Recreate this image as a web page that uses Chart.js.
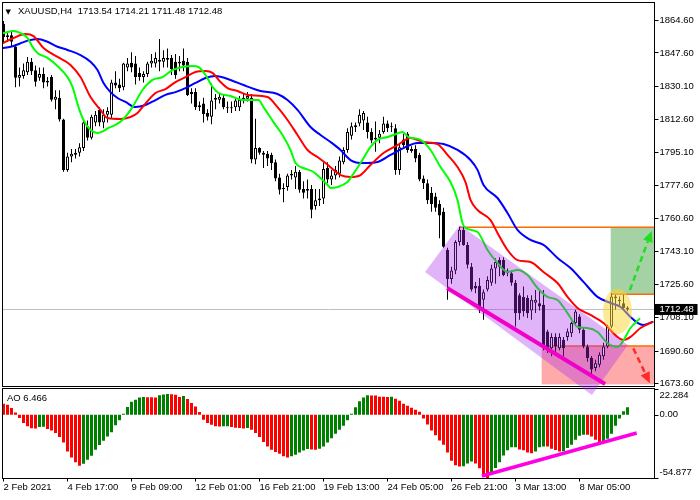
<!DOCTYPE html>
<html>
<head>
<meta charset="utf-8">
<title>XAUUSD,H4</title>
<script src="https://cdn.jsdelivr.net/npm/chart.js@4.4.1/dist/chart.umd.min.js"></script>
<style>
html,body{margin:0;padding:0;background:#ffffff;overflow:hidden;}
canvas{display:block;}
</style>
</head>
<body>
<canvas id="chart" width="700" height="500"></canvas>
<script>
// ================= DATA =================
const symbolName = 'XAUUSD';
const timeframe = 'H4';

const opens = [1863,1856,1857,1851,1834.5,1835.5,1837.5,1843,1838.5,1834.5,
1836.5,1833,1835,1823,1824,1812.5,1786,1793,1794,1795,
1797.5,1809,1803,1811,1817.5,1811,1815,1815,1832,1831,
1829.5,1840,1842.5,1842,1837,1835,1836.5,1842,1842,1844,
1843,1845,1845,1843,1843,1843.5,1843,1826,1827,1820,
1821,1816,1814,1823,1823,1824,1819,1818.5,1819,1819,
1823,1823.5,1824,1791.5,1797.5,1795,1794.5,1794,1790,1782,
1776,1777,1783,1782,1785,1776,1775,1776,1767,1771,
1771,1787,1781,1783,1784,1790,1796.5,1804,1808.5,1810.5,
1812,1811,1806,1803,1803,1806,1810.5,1808.5,1808,1786,
1802,1805,1797,1797,1794,1781.5,1779,1774,1772,1768,
1764,1744,1728.5,1733,1748,1754.5,1746.5,1735,1725,1725,
1717.6,1723,1726.5,1734,1738.5,1738.5,1733,1731.5,1726.5,1720,
1719,1718.5,1712,1716,1715.8,1715,1700.9,1692,1698,1692,
1696.5,1698,1700,1705.3,1708.8,1701.8,1693,1686.9,1681.6,1683.4,
1687.8,1693,1703.5,1718.5,1717.6,1715.8,1713.54];

const highs = [1864.5,1858.5,1859,1852,1840,1842,1845.5,1845,1841,1840,
1840,1835,1836,1828,1828,1813,1795,1797,1797,1800,
1812,1812,1815,1817,1819,1818,1819,1833.5,1838,1834,
1842.5,1845,1848,1846,1840,1838,1843,1847,1848,1855,
1849,1850,1846.5,1847,1846,1850,1845,1829,1829,1822,
1824,1818,1831.5,1826,1826,1826,1822,1822,1824,1825,
1826,1827,1826,1813,1798,1796,1796,1795,1791.5,1784,
1779,1784,1786,1788,1786,1780,1781,1778,1776,1776,
1790,1790,1786,1788,1793,1798,1808,1811,1811,1818,
1817,1814,1808,1811.5,1807,1814,1812,1811,1810,1800,
1805,1806,1798.5,1799,1795,1783,1781,1777,1774,1770,
1766,1745,1735,1749,1756,1757,1748,1737,1727,1729,
1723,1730,1736,1739.5,1740,1740,1734,1733,1728,1721,
1724.6,1720,1720,1722.8,1722.8,1722.8,1701.8,1700,1700,1700,
1698,1702.5,1706,1712.3,1710,1703,1694,1688,1686,1690,
1695,1704.4,1721,1720.2,1719.3,1720.2,1714.21];

const lows = [1853,1853.5,1851,1829.5,1830,1834,1836,1836,1830,1833,
1829,1830,1822,1818,1811.5,1785,1785,1790,1792,1793,
1796,1801.5,1802,1809,1809,1808,1811,1813,1829,1827,
1828,1838,1837.5,1831,1833,1832,1835,1840,1840,1838,
1840,1840,1836,1834,1838,1838,1825,1821,1817.5,1817,
1811,1812,1810,1818,1821,1818,1816,1816,1817,1817,
1821,1822,1789.5,1789,1794,1787,1788,1786,1780,1773,
1769,1775,1781,1776,1774,1771,1771,1760.5,1765,1767,
1768,1779,1778,1781,1782,1789,1795,1802,1806,1809,
1807,1802.5,1800,1795.5,1800,1805,1806,1806,1783.5,1783.5,
1798,1795,1795,1790,1780,1776,1768,1764,1764,1750,
1745,1717.6,1726,1731,1746,1746,1734,1722,1721,1710.6,
1707,1722,1725,1726,1730,1730,1730,1725,1703.5,1707,
1708.8,1708,1707,1710.6,1712,1691,1689.5,1687.8,1690,1691,
1687.8,1696,1698,1704.4,1700,1692,1685,1678,1679.9,1682,
1686,1692,1702.6,1712.3,1714,1712.3,1711.48];

const closes = [1856,1857,1853.5,1834.5,1836,1838.5,1843,1838,1832.5,1836.5,
1832,1832,1823,1824.5,1812.5,1786,1793,1794.5,1795,1798,
1811,1803,1814,1815,1811,1815,1817,1832,1830.5,1829,
1842,1842,1840,1835,1835,1836.5,1842,1843.5,1845,1843,
1845,1844,1839,1836,1842,1841,1825.5,1827,1819,1819,
1815.5,1814,1822.5,1824,1824.5,1819,1818.5,1819,1822.5,1823,
1824,1825,1791.5,1797.5,1795,1794,1792,1789.5,1781.5,1775.5,
1776.5,1783,1784,1785,1775.5,1774,1776,1765,1770,1770,
1786.5,1781,1783,1786,1791,1796.5,1806,1809,1809.5,1815,
1816,1806,1801.5,1802,1805,1810.5,1808,1809,1786,1798,
1799,1796.5,1796,1792,1781,1779,1770,1768,1766,1762,
1745.5,1728.5,1733,1748,1754.5,1746.5,1736,1723,1723.5,1713,
1721.5,1728,1734,1737.5,1735,1730.7,1731.5,1726.5,1710.5,1710.5,
1711.5,1710.5,1717.6,1717.6,1714,1692,1692,1698,1693,1698,
1692,1700.9,1705.3,1711.4,1701.8,1693,1686.9,1680.8,1684.2,1688.6,
1693,1703.5,1719.3,1719.3,1716.8,1713.2,1712.48];

const aoValues = [9.5,8.7,5.8,2.0,-2.9,-7.2,-10.1,-11.8,-11.9,-10.7,
-10.5,-12.4,-13.6,-15.9,-19.4,-24.0,-31.8,-37.0,-41.3,-44.2,
-42.5,-39.0,-35.5,-30.4,-26.3,-22.5,-18.8,-15.3,-9.2,-4.9,
0.9,6.6,11.3,13.0,15.0,15.3,15.2,15.1,15.0,16.9,
17.6,17.9,17.8,17.3,15.3,16.2,13.6,10.1,7.2,2.3,
-4.3,-7.2,-8.7,-10.1,-10.2,-10.0,-9.9,-10.7,-11.3,-11.6,
-11.9,-11.5,-13.0,-15.9,-19.4,-23.7,-27.5,-30.4,-32.4,-33.8,
-36.1,-37.0,-36.1,-34.7,-32.7,-31.0,-29.8,-30.1,-30.4,-29.5,
-27.5,-24.0,-20.5,-16.5,-13.0,-9.5,-4.9,0.9,6.4,11.6,
15.0,16.8,16.7,16.6,15.6,15.5,15.4,15.6,13.9,12.1,
9.5,7.8,6.1,4.3,2.6,-3.2,-8.4,-13.6,-17.9,-22.3,
-26.0,-32.7,-39.9,-43.9,-44.8,-44.7,-42.2,-40.5,-42.2,-46.5,
-52.5,-54.877,-49.7,-46.2,-41.3,-35.3,-30.9,-28.3,-28.2,-30.1,
-30.9,-32.7,-33.5,-31.8,-28.3,-27.5,-27.6,-29.5,-30.6,-31.8,
-31.7,-28.9,-26.0,-21.7,-18.2,-17.3,-17.4,-18.8,-21.7,-24.6,
-23.1,-20.8,-16.5,-9.5,-3.2,2.9,6.466];

// Alligator lines: [bar index, price]
const jawPoints = [[0,1850.2],[2.5,1851.3],[4.25,1852.7],[6,1854.1],[8.5,1855.0],[11,1853.5],[13.5,1850.9],[16,1849.2],[19.25,1846.5],[21.75,1843.0],
[23.5,1838.6],[25,1831.8],[26.75,1827.0],[28.5,1823.9],[30.5,1821.8],[33,1819.1],[35.5,1820.2],[38,1822.8],[40.5,1825.5],[43,1827.0],
[45.5,1829.1],[48,1831.8],[50.5,1834.4],[53,1835.5],[56.75,1833.4],[60,1830.7],[64.25,1827.6],[68.5,1826.0],[71,1822.8],[73.5,1817.6],
[76.75,1808.6],[79.25,1804.4],[81.75,1800.7],[84.25,1796.5],[86.75,1791.2],[90,1789.6],[93.5,1790.2],[96.75,1793.9],[100,1797.5],[103.5,1800.2],
[106.75,1800.2],[110,1799.6],[113.5,1796.5],[116.75,1791.2],[118.5,1786.0],[120,1778.1],[123.5,1771.2],[126,1763.3],[128.5,1754.4],[131.75,1749.1],
[135,1746.5],[138.5,1739.6],[141.75,1734.3],[145,1727.0],[148.5,1719.1],[151.75,1715.9],[154.25,1713.8],[156.75,1708.5],[158.5,1705.4],[160,1704.3],[162.25,1705.9]];

const teethPoints = [[0,1852.9],[2.5,1855.5],[5.5,1857.6],[7.5,1856.5],[10,1850.2],[13.5,1845.5],[16.75,1841.3],[19.25,1834.9],[21.75,1824.4],[24.25,1817.6],
[26,1813.3],[29.25,1812.8],[31.75,1813.9],[33.5,1816.0],[34.75,1819.1],[38,1826.5],[40.5,1828.6],[43,1832.3],[45.5,1834.9],[48,1837.6],
[50.5,1838.1],[52.25,1837.1],[54.25,1832.3],[56,1829.1],[58.5,1827.6],[61,1825.5],[66,1824.4],[68.5,1819.1],[71,1812.3],[73.5,1804.4],
[76,1796.5],[78.5,1792.8],[80.5,1789.6],[82.5,1786.0],[84.25,1783.3],[86.75,1782.3],[89.25,1783.3],[91.75,1788.6],[95,1794.9],[98.5,1799.1],
[101.75,1802.8],[105,1800.7],[108.5,1799.6],[111,1793.9],[113.5,1787.5],[115.5,1779.6],[116.75,1770.2],[118.5,1764.9],[121.75,1759.6],[123.5,1752.8],
[126,1743.8],[128.5,1738.5],[131.75,1737.5],[135,1732.2],[138.5,1726.4],[141,1719.1],[143.5,1713.3],[146.75,1709.6],[150,1705.4],[153.5,1698.0],
[155,1696.4],[156.75,1698.0],[159.25,1702.7],[162.25,1705.9]];

const lipsPoints = [[0,1858.1],[2.5,1859.2],[4.25,1858.1],[6,1855.5],[7.25,1850.8],[8.5,1847.6],[11,1845.0],[13.75,1840.2],[16,1834.9],[17.25,1829.7],
[18.75,1819.1],[20,1812.3],[21.75,1807.0],[23.5,1805.4],[25,1806.5],[26.25,1808.1],[28,1809.7],[29.75,1812.3],[32.25,1819.1],[34.75,1828.1],
[37.25,1833.4],[39.75,1834.9],[42.25,1838.6],[44.75,1840.2],[47.25,1840.7],[48.75,1840.2],[50.5,1836.0],[52.25,1829.7],[53.75,1826.5],[56.75,1824.9],
[60,1822.8],[63.75,1822.8],[65,1819.1],[67.5,1811.2],[69.75,1804.4],[71.75,1796.5],[73,1789.6],[75,1787.0],[77.5,1784.9],[79.25,1781.7],
[81,1778.1],[81.75,1776.5],[83.5,1777.0],[86,1779.6],[86.75,1781.7],[89.25,1789.6],[91.75,1798.1],[93.5,1801.8],[96,1803.3],[97.5,1804.4],
[99.75,1806.0],[101.25,1803.3],[104.25,1801.8],[106.75,1796.5],[109.25,1787.5],[111.75,1779.6],[113.5,1770.2],[114.75,1758.0],[115.5,1755.4],[118.5,1753.3],
[121,1743.8],[123.5,1737.0],[126,1732.2],[128.5,1733.3],[131,1730.6],[133.5,1723.8],[136,1719.1],[138.5,1717.5],[141,1710.6],[143.5,1703.3],
[146,1702.7],[148.5,1700.6],[151,1694.8],[153.5,1692.7],[154.75,1695.4],[156.75,1702.7],[159,1707.5]];

const dateTickBars = [0,16,32,48,64,80,96,112,128,144];
const dateTickLabels = ['2 Feb 2021','4 Feb 17:00','9 Feb 09:00','12 Feb 01:00','16 Feb 21:00','19 Feb 13:00','24 Feb 05:00','26 Feb 21:00','3 Mar 13:00','8 Mar 05:00'];
const priceTicks = [1864.60,1847.60,1830.10,1812.60,1795.10,1777.60,1760.60,1743.10,1725.60,1708.10,1690.60,1673.60];
const aoTicks = [22.284, 0, -54.877];

// Drawn objects, in data coordinates [bar index, price]
const channelCorners = [[105.4,1732.2],[114.1,1757.0],[156.1,1693.8],[147.1,1667.4]];
const channelLine = [[110.9,1723.8],[150.4,1673.2]];
const aoTrendLine = [[119.6,-53.1],[158.3,-15.9]];
const levelPrices = [1755.8, 1720.5, 1693.2];
const levelStartBars = [114.1, 151.8, 134.55];
const buyZone = [151.8, 1720.5, 1755.8];    // start bar, low, high
const sellZone = [134.55, 1673.0, 1693.2];  // start bar, low, high
const upArrow = [[156.6,1722.7],[162.05,1753.8]];
const downArrow = [[157.45,1692.0],[161.6,1673.6]];
const focusEllipse = [153.5, 1711.5, 3.6, 12.0]; // centre bar, centre price, half-width (bars), half-height (price)

// ================= CHART =================
const FONT = '"Liberation Sans", Arial, sans-serif';
Chart.defaults.font.family = FONT;
Chart.defaults.font.size = 9.5;
Chart.defaults.color = '#000';

const last = closes.length - 1;
const barIdx = closes.map((_, i) => i);
const aoColors = (() => {
  let up = false;
  return aoValues.map((v, i) => {
    if (i > 0) { if (v > aoValues[i-1]) up = true; else if (v < aoValues[i-1]) up = false; }
    return up ? '#008000' : '#ff0000';
  });
})();

function zeroPad(scale) {
  scale.paddingTop = 0; scale.paddingBottom = 0; scale.paddingLeft = 0; scale.paddingRight = 0;
}

function arrow(ctx, x0, y0, x1, y1, color) {
  const a = Math.atan2(y1 - y0, x1 - x0);
  const head = 11, half = 5;
  const bx = x1 - head * Math.cos(a), by = y1 - head * Math.sin(a);
  ctx.save();
  ctx.strokeStyle = color; ctx.lineWidth = 2.5; ctx.setLineDash([6, 4]);
  ctx.beginPath(); ctx.moveTo(x0, y0); ctx.lineTo(bx, by); ctx.stroke();
  ctx.setLineDash([]);
  ctx.fillStyle = color;
  ctx.beginPath(); ctx.moveTo(x1, y1);
  ctx.lineTo(bx + half * Math.sin(a), by - half * Math.cos(a));
  ctx.lineTo(bx - half * Math.sin(a), by + half * Math.cos(a));
  ctx.closePath(); ctx.fill();
  ctx.restore();
}

const overlay = {
  id: 'overlay',
  beforeDatasetsDraw(chart) {
    const {ctx} = chart;
    const xs = chart.scales.x, ys = chart.scales.y;
    const X = v => xs.getPixelForValue(v), Y = v => ys.getPixelForValue(v);
    ctx.save();
    ctx.beginPath(); ctx.rect(xs.left, ys.top, xs.right - xs.left, ys.bottom - ys.top); ctx.clip();
    // zones
    ctx.fillStyle = '#a5d2a5';
    ctx.fillRect(X(buyZone[0]), Y(buyZone[2]), xs.right - X(buyZone[0]), Y(buyZone[1]) - Y(buyZone[2]));
    ctx.fillStyle = '#ffaaaa';
    ctx.fillRect(X(sellZone[0]), Y(sellZone[2]), xs.right - X(sellZone[0]), Y(sellZone[1]) - Y(sellZone[2]));
    // current price line
    ctx.strokeStyle = '#c0c0c0'; ctx.lineWidth = 1;
    const yp = Math.round(Y(closes[last]) - 0.5) + 0.5;
    ctx.beginPath(); ctx.moveTo(xs.left, yp); ctx.lineTo(xs.right, yp); ctx.stroke();
    // levels
    ctx.strokeStyle = '#ff6a00'; ctx.lineWidth = 1.4;
    levelPrices.forEach((p, k) => {
      ctx.beginPath(); ctx.moveTo(X(levelStartBars[k]), Y(p)); ctx.lineTo(xs.right, Y(p)); ctx.stroke();
    });
    ctx.restore();
  },
  afterDraw(chart) {
    const {ctx} = chart;
    const xs = chart.scales.x, ys = chart.scales.y, as = chart.scales.ao;
    const X = v => xs.getPixelForValue(v), Y = v => ys.getPixelForValue(v), A = v => as.getPixelForValue(v);
    ctx.save();
    // panel borders
    ctx.strokeStyle = '#000'; ctx.lineWidth = 1;
    ctx.strokeRect(xs.left, ys.top, xs.right - xs.left, ys.bottom - ys.top);
    ctx.strokeRect(xs.left, as.top + 2, xs.right - xs.left, as.bottom - as.top - 2);

    // yellow ellipse
    ctx.fillStyle = 'rgba(252,214,50,0.52)';
    const ecx = X(focusEllipse[0]), ecy = Y(focusEllipse[1]);
    const erx = Math.abs(X(focusEllipse[0] + focusEllipse[2]) - ecx), ery = Math.abs(Y(focusEllipse[1] + focusEllipse[3]) - ecy);
    ctx.beginPath(); ctx.ellipse(ecx, ecy, erx, ery, 0, 0, Math.PI * 2); ctx.fill();

    // purple channel
    ctx.fillStyle = 'rgba(169,41,241,0.35)';
    ctx.beginPath();
    channelCorners.forEach(([b, p], k) => { if (k === 0) ctx.moveTo(X(b), Y(p)); else ctx.lineTo(X(b), Y(p)); });
    ctx.closePath(); ctx.fill();

    // magenta lines
    ctx.strokeStyle = '#f000c8'; ctx.lineWidth = 4; ctx.lineCap = 'butt';
    ctx.beginPath(); ctx.moveTo(X(channelLine[0][0]), Y(channelLine[0][1])); ctx.lineTo(X(channelLine[1][0]), Y(channelLine[1][1])); ctx.stroke();
    ctx.strokeStyle = '#ff00e6'; ctx.lineWidth = 3.5;
    ctx.beginPath(); ctx.moveTo(X(aoTrendLine[0][0]), A(aoTrendLine[0][1])); ctx.lineTo(X(aoTrendLine[1][0]), A(aoTrendLine[1][1])); ctx.stroke();

    // arrows
    arrow(ctx, X(upArrow[0][0]), Y(upArrow[0][1]), X(upArrow[1][0]), Y(upArrow[1][1]), '#22dd22');
    arrow(ctx, X(downArrow[0][0]), Y(downArrow[0][1]), X(downArrow[1][0]), Y(downArrow[1][1]), '#ff2a2a');

    // AO axis ticks and labels
    ctx.font = '9.5px ' + FONT; ctx.fillStyle = '#000'; ctx.textAlign = 'left'; ctx.textBaseline = 'middle';
    ctx.strokeStyle = '#000'; ctx.lineWidth = 1;
    aoTicks.forEach((v, k) => {
      const py = A(v);
      ctx.beginPath(); ctx.moveTo(xs.right, Math.round(py) + 0.5); ctx.lineTo(xs.right + 4, Math.round(py) + 0.5); ctx.stroke();
      const off = k === 0 ? 6.7 : (k === aoTicks.length - 1 ? -5.7 : 0);
      ctx.fillText(v === 0 ? '0.00' : v.toFixed(3), xs.right + 5, py + off);
    });

    // current price label
    const yp = Y(closes[last]);
    ctx.fillStyle = '#000';
    ctx.fillRect(xs.right + 0.5, yp - 5.5, 42.5, 11);
    ctx.fillStyle = '#fff';
    ctx.fillText(closes[last].toFixed(2), xs.right + 5, yp);

    // header and indicator label
    ctx.fillStyle = '#000';
    ctx.textBaseline = 'alphabetic';
    ctx.font = '7px "DejaVu Sans", sans-serif';
    ctx.fillText('\u25BC', 5.5, 13.5);
    ctx.font = '9.5px ' + FONT;
    const hdr = symbolName + ',' + timeframe + '  ' + opens[last].toFixed(2) + ' ' + highs[last].toFixed(2) + ' ' + lows[last].toFixed(2) + ' ' + closes[last].toFixed(2);
    ctx.fillText(hdr, 18, 14.3);
    ctx.fillText('AO ' + aoValues[last].toFixed(3), 7, 400.5);
    ctx.restore();
  }
};

const lineDs = (label, pts, color, order) => ({
  type: 'line', label, data: pts.map(([x, y]) => ({x, y})), yAxisID: 'y',
  borderColor: color, borderWidth: 2, pointRadius: 0, cubicInterpolationMode: 'monotone',
  borderJoinStyle: 'round', borderCapStyle: 'round', order
});

new Chart(document.getElementById('chart'), {
  type: 'bar',
  data: {
    datasets: [
      lineDs('Lips', lipsPoints, '#00ff00', 1),
      lineDs('Teeth', teethPoints, '#ff0000', 2),
      lineDs('Jaw', jawPoints, '#0000ff', 3),
      {
        type: 'bar', label: 'Body', yAxisID: 'y',
        data: barIdx.map(i => ({x: i, y: [opens[i], closes[i]]})),
        backgroundColor: barIdx.map(i => closes[i] >= opens[i] ? '#ffffff' : '#000000'),
        borderColor: '#000', borderWidth: 1, borderSkipped: false,
        barThickness: 3, minBarLength: 1, grouped: false, inflateAmount: 0, order: 4
      },
      {
        type: 'bar', label: 'Wick', yAxisID: 'y',
        data: barIdx.map(i => ({x: i, y: [lows[i], highs[i]]})),
        backgroundColor: '#000', borderWidth: 0,
        barThickness: 1, grouped: false, inflateAmount: 0, order: 5
      },
      {
        type: 'bar', label: 'AO', yAxisID: 'ao',
        data: barIdx.map(i => ({x: i, y: aoValues[i]})),
        backgroundColor: aoColors, borderWidth: 0,
        barThickness: 3, grouped: false, inflateAmount: 0, order: 6
      }
    ]
  },
  options: {
    responsive: false, animation: false, events: [],
    layout: {padding: {left: 2.5, top: 2.5, right: 0, bottom: 0}},
    plugins: {legend: {display: false}, tooltip: {enabled: false}},
    scales: {
      x: {
        type: 'linear', position: 'bottom', min: -0.25, max: 162.75, offset: false,
        grid: {display: true, drawOnChartArea: false, drawTicks: true, tickLength: 3, color: '#000', offset: false},
        border: {display: false},
        ticks: {
          align: 'start', padding: 0, autoSkip: false, maxRotation: 0, minRotation: 0, color: '#000',
          callback: (v) => { const k = dateTickBars.indexOf(v); return k >= 0 ? dateTickLabels[k] : ''; }
        },
        afterBuildTicks: (s) => { s.ticks = dateTickBars.map(v => ({value: v})); },
        afterFit: (s) => { s.height = 21.5; zeroPad(s); }
      },
      y: {
        type: 'linear', position: 'right', stack: 'panes', stackWeight: 384,
        min: 1671.9, max: 1874.19,
        grid: {display: true, drawOnChartArea: false, drawTicks: true, tickLength: 4, color: '#000'},
        border: {display: false},
        ticks: {padding: 1, autoSkip: false, color: '#000', callback: (v) => Number(v).toFixed(2)},
        afterBuildTicks: (s) => { s.ticks = priceTicks.map(v => ({value: v})); },
        afterFit: (s) => { s.width = 45.5; zeroPad(s); }
      },
      ao: {
        type: 'linear', position: 'right', stack: 'panes', stackWeight: 92,
        min: -55.3, max: 24.45,
        grid: {display: false}, border: {display: false},
        ticks: {display: false},
        afterFit: (s) => { s.width = 45.5; zeroPad(s); }
      }
    }
  },
  plugins: [overlay]
});
</script>
</body>
</html>
